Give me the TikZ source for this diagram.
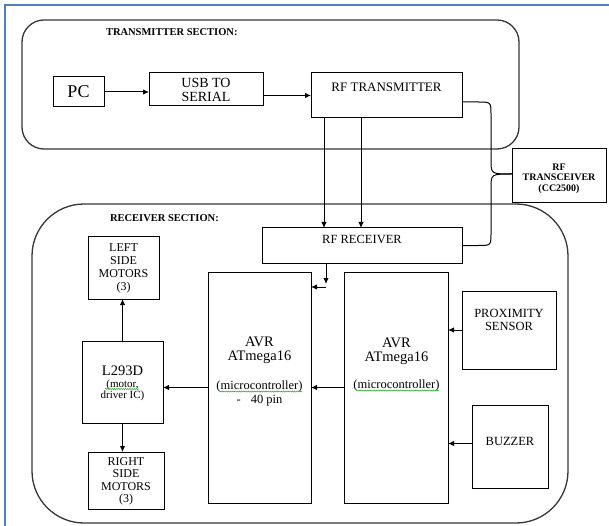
\documentclass[tikz,border=0pt]{standalone}
\usepackage{fontspec}
\setmainfont{Liberation Serif}
\usetikzlibrary{arrows.meta,decorations.pathmorphing}
\definecolor{wordblue}{RGB}{79,129,189}
\definecolor{secgray}{RGB}{55,55,55}
\definecolor{squiggreen}{RGB}{40,170,40}
\tikzset{
  box/.style={draw=black,fill=white,line width=1pt,inner sep=0pt,outer sep=0pt},
  sect/.style={draw=secgray,line width=1.3pt,inner sep=0pt,outer sep=0pt},
  txt/.style={inner sep=0pt,outer sep=0pt,align=center,text=black},
  arr/.style={line width=1pt,-{Latex[length=6pt,width=5.5pt]}},
  wire/.style={line width=1pt},
  frame/.style={draw=wordblue,line width=2pt},
  squig/.style={draw=squiggreen,line width=0.5pt,decorate,decoration={snake,amplitude=0.6pt,segment length=2.2pt}},
  fs/.style n args={2}{font=\fontsize{#1}{#2}\selectfont}
}
\begin{document}
\begin{tikzpicture}[x=1pt,y=-1pt]
\useasboundingbox (0,0) rectangle (609,526);
\fill[white] (0,0) rectangle (609,526);
\draw[frame] (5,530) -- (5,5) -- (615,5);

% sections
\node[sect,rounded corners=22pt,minimum width=497pt,minimum height=129pt] (txsec) at (270.5,84.5) {};
\node[sect,rounded corners=52pt,minimum width=536pt,minimum height=319pt] (rxsec) at (300,363.5) {};
\node[txt,anchor=west,fs={10.5}{11}] (txtitle) at (106,32) {\bfseries TRANSMITTER SECTION:};
\node[txt,anchor=west,fs={10.5}{11}] (rxtitle) at (110,218) {\bfseries RECEIVER SECTION:};

% coordinates for connector x positions
\coordinate (c1) at (324,0);
\coordinate (c2) at (361,0);
\coordinate (c3) at (326,0);
\coordinate (c4) at (326,287);

% curves to transceiver (drawn before boxes)
\node[box,minimum width=151pt,minimum height=45pt] (tx) at (386.5,95.5) {};
\node[box,minimum width=200pt,minimum height=35pt] (rx) at (362,245.5) {};
\draw[wire] ([yshift=-6.5pt]tx.east) -- (478,102) .. controls (491,102) .. (491,115) -- (491,160) .. controls (491,174) .. (512,174);
\draw[wire] (512,174) .. controls (491,174) .. (491,188) -- (491,233) .. controls (491,245.5) .. (478,245.5) -- (rx.east);

% boxes
\node[box,minimum width=51pt,minimum height=30pt] (pc) at (78.5,92) {};
\node[txt,fs={18}{18}] (pctext) at (78.5,92) {PC};
\node[box,minimum width=114pt,minimum height=33pt] (usb) at (206,89.5) {};
\node[txt,fs={14}{14}] (usbtext) at (206,90) {USB TO\\SERIAL};
\node[txt,fs={13}{13}] (txtext) at (386.5,87) {RF TRANSMITTER};
\node[box,minimum width=94pt,minimum height=54pt] (trx) at (559,176) {};
\node[txt,fs={10}{10.5}] (trxtext) at (559,178.5) {\bfseries RF\\\bfseries TRANSCEIVER\\\bfseries (CC2500)};
\node[txt,fs={12.5}{12.5}] (rxtext) at (362,239) {RF RECEIVER};

\node[box,minimum width=71pt,minimum height=62pt] (lm) at (123.5,268) {};
\node[txt,fs={12}{13}] (lmtext) at (123.5,268) {LEFT\\SIDE\\MOTORS\\(3)};
\node[box,minimum width=81pt,minimum height=82pt] (drv) at (122.5,382) {};
\node[txt,fs={14.5}{14.5}] (drvtitle) at (122.5,370.5) {L293D};
\node[txt,fs={11}{10.5}] (drvtext) at (122.5,390.5) {(motor,\\driver IC)};
\node[box,minimum width=76pt,minimum height=57pt] (rm) at (126,480.5) {};
\node[txt,fs={12}{12.5}] (rmtext) at (126,481.5) {RIGHT\\SIDE\\MOTORS\\(3)};

\node[box,minimum width=103pt,minimum height=231pt] (avr1) at (259.5,387.5) {};
\node[txt,fs={14.5}{14}] (avr1a) at (259.5,350) {AVR\\ATmega16};
\node[txt,fs={12.5}{14}] (avr1b) at (259.5,393) {(microcontroller)\\-\hspace{10pt}40 pin};
\node[box,minimum width=104pt,minimum height=231pt] (avr2) at (396,387.5) {};
\node[txt,fs={14.5}{13.5}] (avr2a) at (396.5,351.5) {AVR\\ATmega16};
\node[txt,fs={12.5}{14}] (avr2b) at (396.5,385) {(microcontroller)};

\node[box,minimum width=94pt,minimum height=78pt] (prox) at (509,330) {};
\node[txt,fs={12.5}{13}] (proxtext) at (509,319.5) {PROXIMITY\\SENSOR};
\node[box,minimum width=76pt,minimum height=83pt] (buzz) at (510,446.5) {};
\node[txt,fs={12.5}{13}] (buzztext) at (510,441) {BUZZER};

% grammar squiggles
\draw[squig] (219,391.5) -- (302,391.5);
\draw[squig] (356,390.5) -- (439,390.5);
\draw[squig] (105,389) -- (139,389);

% connectors
\draw[arr] (pc.east) -- (pc.east -| usb.west);
\draw[arr] (usb.east |- tx.west) -- (tx.west);
\draw[arr] (tx.south -| c1) -- (rx.north -| c1);
\draw[arr] (tx.south -| c2) -- (rx.north -| c2);
\draw[arr] (rx.south -| c3) -- ([yshift=3pt]c4);
\draw[arr] (c4) -- (c4 -| avr1.east);
\draw[arr] (avr2.west) -- (avr2.west -| avr1.east);
\draw[arr] (avr1.west) -- (avr1.west -| drv.east);
\draw[arr] (drv.north) -- (drv.north |- lm.south);
\draw[arr] (drv.south) -- (drv.south |- rm.north);
\draw[arr] (prox.west) -- (prox.west -| avr2.east);
\draw[arr] ([yshift=3pt]buzz.west) -- ([yshift=3pt]buzz.west -| avr2.east);
\end{tikzpicture}
\end{document}
